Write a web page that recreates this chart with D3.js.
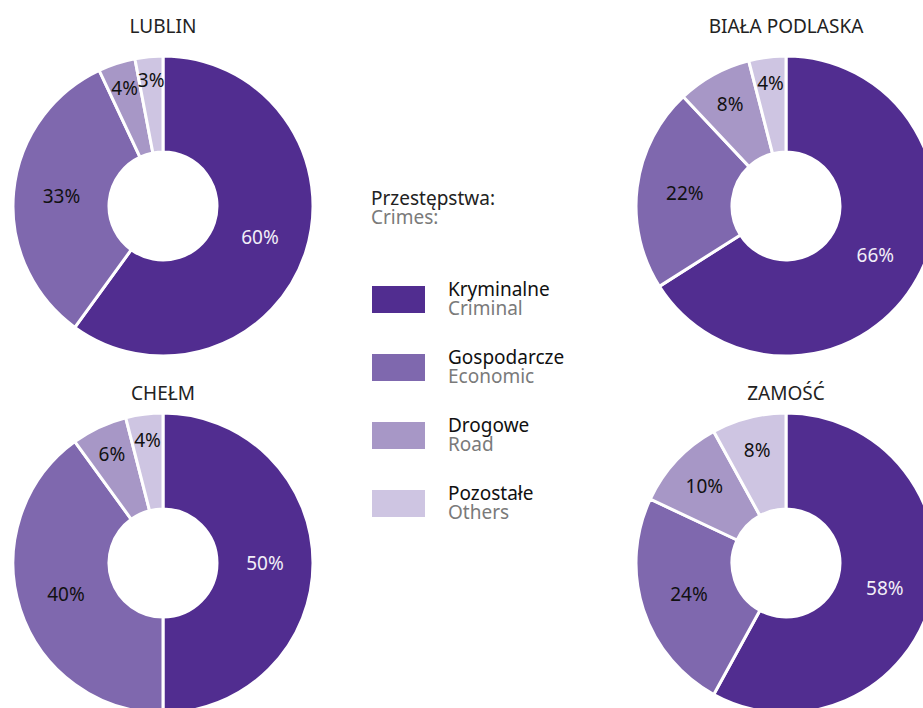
<!DOCTYPE html>
<meta charset="utf-8">
<script src="https://d3js.org/d3.v7.min.js"></script>
<style>
  body { margin: 0; background: #fff; }
  text { font-family: "Noto Sans", "Open Sans", sans-serif; }
</style>
<div id="my_dataviz"></div>
<script>

// data
var cities = ["LUBLIN", "BIAŁA PODLASKA", "CHEŁM", "ZAMOŚĆ"]
var categories = ["Kryminalne", "Gospodarcze", "Drogowe", "Pozostałe"]
var categoriesEn = ["Criminal", "Economic", "Road", "Others"]
var lublin = [60, 33, 4, 3]
var bialaPodlaska = [66, 22, 8, 4]
var chelm = [50, 40, 6, 4]
var zamosc = [58, 24, 10, 8]
var values = [lublin, bialaPodlaska, chelm, zamosc]

var width = 923, height = 708
var outerR = 150, innerR = 54

var svg = d3.select("#my_dataviz")
  .append("svg")
  .attr("width", width)
  .attr("height", height)

var color = d3.scaleOrdinal()
  .domain(categories)
  .range(["#512d90", "#7f68ae", "#a797c6", "#cec5e2"])

// where each donut sits, and the baseline of its title
var centers = [[163, 206], [786, 206], [163, 563], [786, 563]]
var titleY = [33, 33, 400, 400]

var pie = d3.pie().sort(null).value(function(d) { return d.value })
var arc = d3.arc().innerRadius(innerR).outerRadius(outerR)

// small slices get their label pushed outwards
function labelPos(d) {
  var r = d.data.value < 20 ? 132 - 2 * d.data.value : 102
  var a = (d.startAngle + d.endAngle) / 2
  return [r * Math.sin(a), -r * Math.cos(a)]
}

cities.forEach(function(city, ci) {
  var g = svg.append("g")
    .attr("transform", "translate(" + centers[ci][0] + "," + centers[ci][1] + ")")

  var data_ready = pie(values[ci].map(function(v, i) { return {key: categories[i], value: v} }))

  g.selectAll("path")
    .data(data_ready)
    .enter()
    .append("path")
    .attr("d", arc)
    .attr("fill", function(d) { return color(d.data.key) })
    .attr("stroke", "white")
    .style("stroke-width", "3px")

  g.selectAll(".lbl")
    .data(data_ready)
    .enter()
    .append("text")
    .attr("class", "lbl")
    .attr("transform", function(d) { return "translate(" + labelPos(d) + ")" })
    .attr("text-anchor", "middle")
    .attr("dy", "0.35em")
    .style("font-size", "19px")
    .style("fill", function(d, i) { return i == 0 ? "#f2eff8" : "#111" })
    .text(function(d) { return d.data.value + "%" })

  svg.append("text")
    .attr("x", centers[ci][0])
    .attr("y", titleY[ci])
    .attr("text-anchor", "middle")
    .style("font-size", "19px")
    .style("fill", "#222")
    .text(city)
})

// legend
svg.append("text")
  .attr("x", 371).attr("y", 205)
  .style("font-size", "19px").style("fill", "#222")
  .text("Przestępstwa:")
svg.append("text")
  .attr("x", 371).attr("y", 224)
  .style("font-size", "19px").style("fill", "#7a7a7a")
  .text("Crimes:")

var legend = svg.selectAll(".legend")
  .data(categories)
  .enter()
  .append("g")
  .attr("class", "legend")
  .attr("transform", function(d, i) { return "translate(372," + (286 + i * 68) + ")" })

legend.append("rect")
  .attr("width", 53)
  .attr("height", 27)
  .style("fill", color)

legend.append("text")
  .attr("x", 76).attr("y", 10)
  .style("font-size", "19px").style("fill", "#111")
  .text(function(d) { return d })

legend.append("text")
  .attr("x", 76).attr("y", 29)
  .style("font-size", "19px").style("fill", "#7a7a7a")
  .text(function(d, i) { return categoriesEn[i] })

</script>
